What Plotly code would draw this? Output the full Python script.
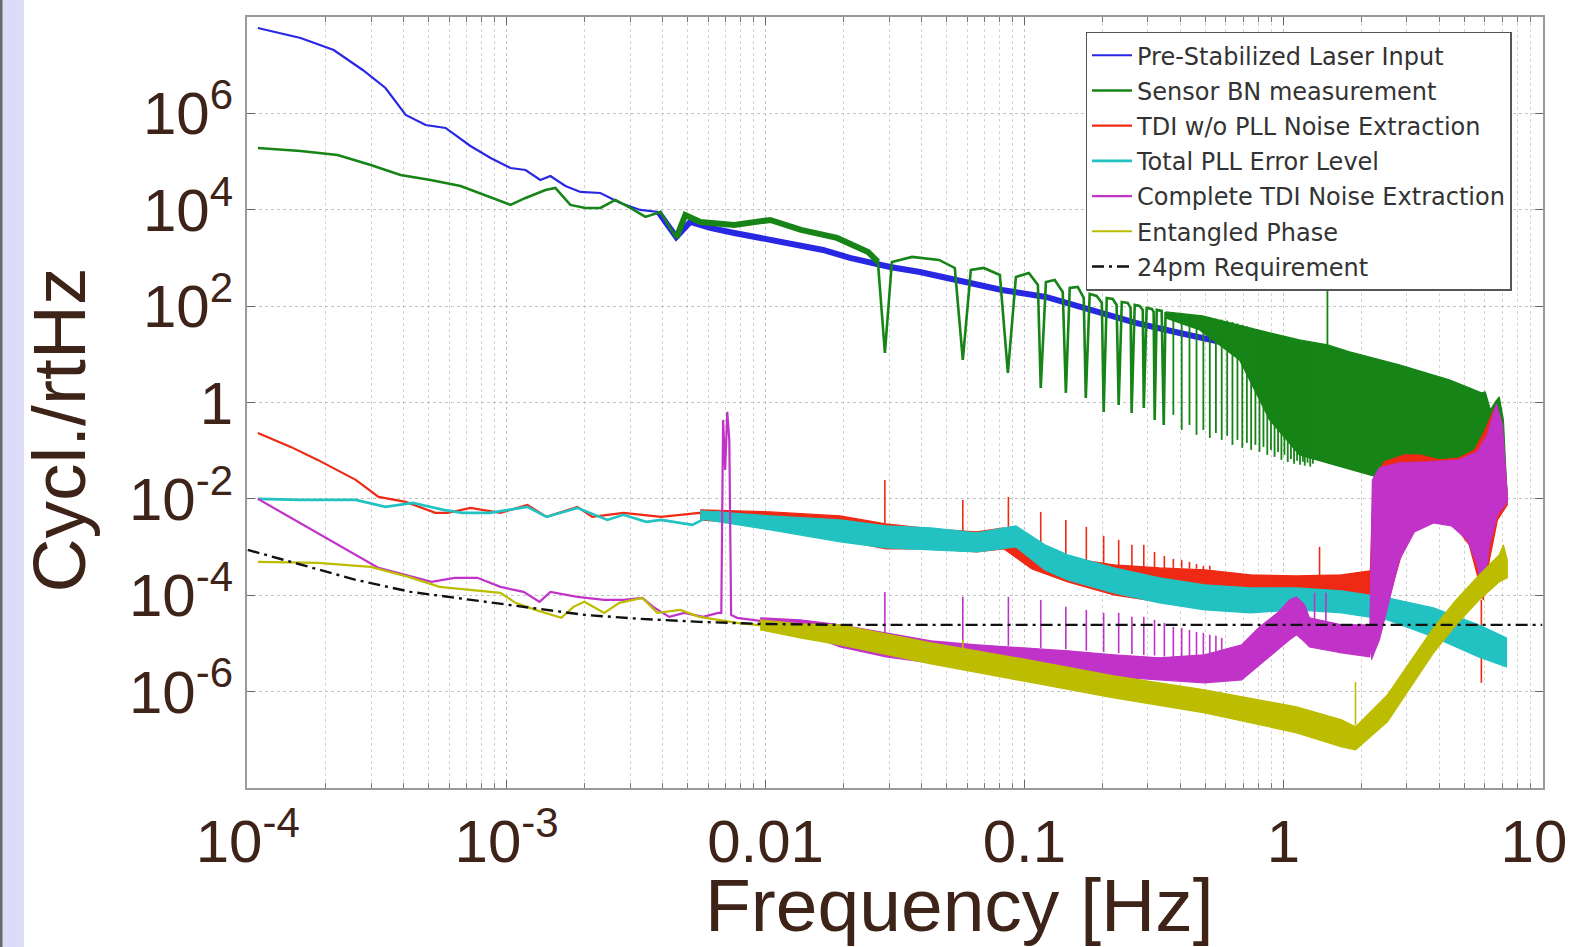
import plotly.graph_objects as go

# ---------------- data (log10 of frequency [Hz] and log10 of amplitude [cycles/rtHz]) ----------------
blue_logf = [-3.961, -3.796, -3.668, -3.556, -3.468, -3.390, -3.313, -3.236, -3.140, -3.062, -2.985, -2.927, -2.870, -2.831, -2.773, -2.715, -2.638, -2.561, -2.484, -2.414, -2.345, -2.291, -2.214, -2.121, -2.021, -1.948, -1.867, -1.778, -1.674, -1.519, -1.404, -1.261, -1.087, -0.917, -0.744, -0.570, -0.400, -0.227, -0.053, 0.062]
blue_logA = [7.772, 7.564, 7.315, 6.900, 6.527, 5.967, 5.759, 5.697, 5.323, 5.074, 4.867, 4.825, 4.618, 4.701, 4.493, 4.369, 4.348, 4.141, 3.996, 3.954, 3.435, 3.746, 3.622, 3.518, 3.414, 3.311, 3.249, 3.166, 3.000, 2.813, 2.709, 2.543, 2.336, 2.190, 1.920, 1.651, 1.443, 1.236, 0.946, 0.780]

green_logf = [-3.961, -3.796, -3.653, -3.525, -3.410, -3.294, -3.178, -3.063, -2.985, -2.927,
              -2.850, -2.812, -2.754, -2.696, -2.638, -2.580, -2.522, -2.464, -2.406, -2.345,
              -2.310, -2.252, -2.121, -1.982, -1.863, -1.724, -1.604, -1.566, -1.539, -1.512,
              -1.434, -1.330, -1.269, -1.238, -1.207, -1.157, -1.095, -1.064, -1.033, -0.983,
              -0.948, -0.937, -0.917, -0.883, -0.852, -0.840, -0.825, -0.794, -0.771, -0.763,
              -0.748, -0.721, -0.701, -0.694, -0.682, -0.659, -0.644, -0.636, -0.624, -0.601,
              -0.590, -0.586, -0.574, -0.555, -0.543, -0.539, -0.528, -0.508, -0.501, -0.497,
              -0.489, -0.470, -0.462, -0.455]
green_logA = [5.282, 5.220, 5.137, 4.929, 4.722, 4.618, 4.494, 4.265, 4.100, 4.245,
              4.411, 4.452, 4.100, 4.037, 4.037, 4.203, 4.037, 3.851, 3.954, 3.415,
              3.892, 3.747, 3.685, 3.788, 3.581, 3.415, 3.124, 2.917, 1.029, 2.917,
              3.021, 2.958, 2.792, 0.884, 2.751, 2.792, 2.647, 0.614, 2.606, 2.689,
              2.440, 0.303, 2.502, 2.544, 2.295, 0.199, 2.378, 2.398, 2.170, 0.095,
              2.253, 2.212, 2.066, -0.195, 2.170, 2.149, 2.025, -0.050, 2.087, 2.066,
              1.963, -0.216, 2.025, 2.004, 1.921, -0.112, 1.963, 1.942, 1.880, -0.361,
              1.921, 1.901, -0.465, 1.880]
gband_up_logf = [-0.455, -0.312, -0.130, 0.062, 0.171, 0.256, 0.448, 0.641, 0.718, 0.765, 0.780, 0.800, 0.819, 0.834, 0.850, 0.865]
gband_up_logA = [1.880, 1.797, 1.548, 1.299, 1.195, 1.050, 0.780, 0.469, 0.303, 0.199, 0.220, -0.154, 0.012, 0.116, -0.361, -2.021]
gband_lo_logf = [-0.455, -0.323, -0.169, -0.053, 0.062, 0.225, 0.402, 0.525, 0.649, 0.699, 0.749, 0.780, 0.816, 0.834]
gband_lo_logA = [1.755, 1.506, 0.884, -0.361, -1.087, -1.336, -1.606, -1.751, -1.813, -1.606, -0.880, -0.569, -0.776, -1.398]
gnotch_f = [0.376, 0.405, 0.434, 0.462, 0.491, 0.520, 0.549, 0.578, 0.607, 0.636, 0.665, 0.694, 0.723, 0.751, 0.780, 0.809, 0.838, 0.867, 0.896, 0.925, 0.954, 0.983, 1.01, 1.04,
            1.07, 1.10, 1.13, 1.16, 1.19, 1.21, 1.24, 1.27, 1.30, 1.48]
gnotch_top = [1.86, 1.84, 1.82, 1.80, 1.78, 1.76, 1.74, 1.72, 1.70, 1.67, 1.64, 1.61, 1.58, 1.55, 1.52, 1.49, 1.46, 1.43, 1.41, 1.39, 1.37, 1.35, 1.32, 1.30,
              1.28, 1.27, 1.26, 1.25, 1.24, 1.23, 1.22, 1.21, 1.20, 2.502]
gnotch_bot = [-0.257, -0.569, -0.465, -0.672, -0.569, -0.735, -0.631, -0.776, -0.693, -0.880, -0.776, -0.942, -0.838, -0.984, -0.880, -1.025, -0.921, -1.087, -0.984, -1.129, -1.025, -1.191, -1.087, -1.233,
              -1.17, -1.27, -1.21, -1.29, -1.23, -1.31, -1.25, -1.33, -1.27, 1.195]

red_logf = [-3.961, -3.834, -3.730, -3.583, -3.495, -3.390, -3.275, -3.228, -3.140, -3.024, -2.920, -2.846, -2.727, -2.669, -2.549, -2.461, -2.403, -2.329, -2.256, -2.183, -2.110, -2.021, -1.905, -1.813, -1.712]
red_logA = [-0.631, -0.921, -1.191, -1.606, -1.959, -2.062, -2.291, -2.291, -2.187, -2.291, -2.125, -2.374, -2.166, -2.374, -2.291, -2.332, -2.374, -2.332, -2.291, -2.374, -2.332, -2.436, -2.394, -2.498, -2.540]
rband_logf = [-2.252, -1.982, -1.712, -1.535, -1.361, -1.184, -1.080, -0.971, -0.833, -0.655, -0.478, -0.304, -0.127, 0.051, 0.225, 0.333]
rband_hi = [-2.228, -2.270, -2.353, -2.519, -2.622, -2.685, -2.602, -2.954, -3.224, -3.369, -3.432, -3.473, -3.577, -3.598, -3.577, -3.494]
rband_lo = [-2.436, -2.560, -2.850, -3.037, -3.037, -3.100, -3.037, -3.452, -3.722, -3.992, -4.137, -4.282, -4.345, -3.992, -3.992, -3.992]
rU_up_logf = [0.333, 0.348, 0.390, 0.468, 0.525, 0.603, 0.680, 0.738, 0.776, 0.816, 0.842, 0.865]
rU_up_logA = [-3.992, -1.606, -1.232, -1.087, -1.087, -1.191, -1.149, -0.984, -0.610, -0.112, -0.361, -1.917]
rU_lo_logf = [0.340, 0.379, 0.417, 0.456, 0.506, 0.583, 0.660, 0.718, 0.749, 0.772, 0.796, 0.827, 0.865]
rU_lo_logA = [-5.133, -4.718, -3.888, -3.162, -2.643, -2.477, -2.540, -2.954, -3.577, -4.096, -3.266, -2.436, -2.125]
rspike_f = [0.0289, 0.0578, 0.0867, 0.1156, 0.1445, 0.1734, 0.2023, 0.2312, 0.2601, 0.289, 0.318, 0.347, 0.376, 0.405, 0.434, 0.462, 0.491, 0.520, 1.38, 5.82]
rspike_top = [-1.606, -2.021, -1.959, -2.270, -2.436, -2.581, -2.768, -2.851, -2.954, -2.954, -3.100, -3.183, -3.245, -3.266, -3.307, -3.349, -3.390, -3.390, -2.996, -4.096]
rspike_bot = [-2.540, -2.685, -2.643, -3.017, -3.224, -3.307, -3.369, -3.390, -3.432, -3.432, -3.432, -3.432, -3.432, -3.432, -3.450, -3.450, -3.470, -3.470, -3.600, -5.818]

cyan_logf = [-3.961, -3.796, -3.583, -3.468, -3.363, -3.244, -3.171, -3.066, -2.993, -2.920, -2.846, -2.727, -2.611, -2.549, -2.461, -2.403, -2.283, -2.183, -2.110, -2.021, -1.959, -1.867, -1.813, -1.712]
cyan_logA = [-2.000, -2.021, -2.021, -2.166, -2.083, -2.228, -2.291, -2.291, -2.228, -2.166, -2.374, -2.187, -2.436, -2.332, -2.477, -2.436, -2.540, -2.270, -2.436, -2.477, -2.498, -2.581, -2.685, -2.643]
cband_logf = [-2.252, -1.982, -1.712, -1.535, -1.361, -1.184, -1.033, -0.921, -0.833, -0.655, -0.478, -0.304, -0.127, 0.051, 0.225, 0.402, 0.580, 0.754, 0.862]
cband_hi = [-2.249, -2.353, -2.436, -2.560, -2.602, -2.705, -2.560, -2.954, -3.162, -3.432, -3.639, -3.784, -3.847, -3.847, -3.909, -4.054, -4.262, -4.614, -4.884]
cband_lo = [-2.415, -2.643, -2.892, -3.017, -3.058, -3.100, -2.996, -3.473, -3.680, -3.950, -4.158, -4.303, -4.365, -4.303, -4.365, -4.510, -4.863, -5.278, -5.486]

mag_logf = [-3.961, -3.730, -3.495, -3.363, -3.290, -3.201, -3.113, -3.024, -2.935, -2.873, -2.831, -2.727, -2.623, -2.549, -2.476, -2.434, -2.372, -2.314, -2.241, -2.183, -2.171, -2.164, -2.156, -2.148, -2.140, -2.133, -2.110, -1.959, -1.813, -1.712]
mag_logA = [-2.000, -2.706, -3.432, -3.618, -3.722, -3.639, -3.639, -3.826, -3.930, -4.137, -3.930, -4.033, -4.096, -4.096, -4.054, -4.241, -4.448, -4.365, -4.448, -4.365, -4.365, -0.361, -1.398, -0.195, -0.776, -4.407, -4.469, -4.573, -4.656, -4.718]
mband_logf = [-2.021, -1.867, -1.712, -1.535, -1.361, -1.184, -1.006, -0.833, -0.655, -0.478, -0.304, -0.161, -0.092, -0.022, 0.024, 0.051, 0.082, 0.101, 0.225, 0.333]
mband_hi = [-4.469, -4.510, -4.614, -4.780, -4.946, -5.029, -5.091, -5.154, -5.237, -5.299, -5.237, -5.029, -4.656, -4.365, -4.096, -4.033, -4.199, -4.469, -4.614, -4.614]
mband_lo = [-4.635, -4.760, -5.071, -5.278, -5.403, -5.486, -5.548, -5.610, -5.693, -5.755, -5.818, -5.755, -5.444, -5.133, -4.925, -4.822, -4.967, -5.071, -5.195, -5.278]
mU_up_logf = [0.333, 0.344, 0.371, 0.448, 0.564, 0.680, 0.749, 0.788, 0.823, 0.846, 0.865]
mU_up_logA = [-5.133, -1.606, -1.357, -1.253, -1.232, -1.191, -1.025, -0.672, -0.029, -0.465, -1.917]
mU_lo_logf = [0.340, 0.371, 0.410, 0.448, 0.506, 0.580, 0.649, 0.711, 0.749, 0.772, 0.796, 0.827, 0.865]
mU_lo_logA = [-5.340, -4.925, -4.096, -3.266, -2.685, -2.498, -2.560, -2.851, -3.369, -3.992, -2.954, -2.332, -2.062]
mspike_f = [0.0289, 0.0578, 0.0867, 0.1156, 0.1445, 0.1734, 0.2023, 0.2312, 0.2601, 0.289, 0.318, 0.347, 0.376, 0.405, 0.434, 0.462, 0.491, 0.520, 0.549, 0.578, 1.32, 1.46]
mspike_top = [-3.930, -4.033, -4.033, -4.096, -4.241, -4.303, -4.365, -4.365, -4.448, -4.448, -4.510, -4.573, -4.656, -4.677, -4.718, -4.760, -4.780, -4.822, -4.843, -4.884, -3.950, -3.950]
mspike_bot = [-4.90, -5.00, -5.05, -5.10, -5.12, -5.15, -5.18, -5.20, -5.22, -5.24, -5.25, -5.27, -5.28, -5.29, -5.30, -5.30, -5.30, -5.30, -5.30, -5.30, -4.60, -4.60]

yel_logf = [-3.961, -3.730, -3.525, -3.379, -3.259, -3.140, -3.024, -2.966, -2.889, -2.789, -2.742, -2.700, -2.623, -2.565, -2.476, -2.418, -2.329, -2.256, -2.110, -1.959, -1.813, -1.712]
yel_logA = [-3.307, -3.328, -3.411, -3.618, -3.826, -3.888, -3.950, -4.158, -4.303, -4.469, -4.241, -4.137, -4.365, -4.158, -4.054, -4.365, -4.303, -4.448, -4.573, -4.656, -4.780, -4.925]
yband_logf = [-2.021, -1.867, -1.712, -1.361, -1.006, -0.655, -0.304, 0.051, 0.225, 0.279, 0.402, 0.491, 0.580, 0.664, 0.753, 0.834, 0.850, 0.865]
yband_hi = [-4.510, -4.594, -4.614, -4.988, -5.320, -5.672, -5.963, -6.315, -6.585, -6.730, -6.066, -5.361, -4.677, -4.117, -3.598, -3.162, -2.954, -3.266]
yband_lo = [-4.718, -4.884, -5.029, -5.424, -5.776, -6.129, -6.440, -6.855, -7.145, -7.208, -6.627, -5.900, -5.195, -4.635, -4.117, -3.722, -3.680, -3.639]
yspike_f = [0.0578, 1.90]
yspike_top = [-4.925, -5.800]
yspike_bot = [-5.300, -6.700]

req_logf = [-4.0, -3.796, -3.583, -3.371, -3.140, -2.908, -2.700, -2.484, -2.256, -2.021, -1.712, 1.0]
req_logA = [-3.058, -3.369, -3.680, -3.930, -4.096, -4.262, -4.407, -4.490, -4.552, -4.594, -4.614, -4.614]

series_names = ["Pre-Stabilized Laser Input", "Sensor BN measurement", "TDI w/o PLL Noise Extraction",
                "Total PLL Error Level", "Complete TDI Noise Extraction", "Entangled Phase", "24pm Requirement"]
x_tickvals = [1e-4, 1e-3, 1e-2, 1e-1, 1, 10]
x_ticktext = ["10<sup>-4</sup>", "10<sup>-3</sup>", "0.01", "0.1", "1", "10\u00a0"]
y_tickvals = [1e-6, 1e-4, 1e-2, 1, 1e2, 1e4, 1e6]
y_ticktext = ["10<sup>-6</sup>", "10<sup>-4</sup>", "10<sup>-2</sup>", "1", "10<sup>2</sup>", "10<sup>4</sup>", "10<sup>6</sup>"]

# ---------------- styling ----------------
C_BLUE, C_GREEN, C_RED, C_CYAN, C_MAG, C_YEL, C_BLK = "#2828e4", "#168416", "#ee2a14", "#22c2c2", "#c032c8", "#bcbc00", "#111111"
BROWN = "#3e2318"


def pw(a):
    return [10 ** v for v in a]


def line(lf, la, color, width, name=None, group=None, dash=None):
    return go.Scatter(x=pw(lf), y=pw(la), mode="lines", name=name or "", legendgroup=group,
                      showlegend=name is not None, hoverinfo="skip",
                      line=dict(color=color, width=width, dash=dash))


def band(up_f, up_a, lo_f, lo_a, color, group):
    xs = pw(up_f) + pw(lo_f)[::-1]
    ys = pw(up_a) + pw(lo_a)[::-1]
    return go.Scatter(x=xs, y=ys, mode="lines", fill="toself", fillcolor=color, legendgroup=group,
                      showlegend=False, hoverinfo="skip", line=dict(color=color, width=1.2))


def spikes(fs, tops, bots, color, group, width=1.6):
    xs, ys = [], []
    for f, t, b in zip(fs, tops, bots):
        xs += [f, f, None]
        ys += [10 ** b, 10 ** t, None]
    return go.Scatter(x=xs, y=ys, mode="lines", legendgroup=group, showlegend=False,
                      hoverinfo="skip", line=dict(color=color, width=width))


fig = go.Figure()
# blue
fig.add_trace(line(blue_logf, blue_logA, C_BLUE, 2.2, series_names[0], "b"))
fig.add_trace(line(blue_logf[19:], blue_logA[19:], C_BLUE, 6, None, "b"))
# green
fig.add_trace(line(green_logf, green_logA, C_GREEN, 2.6, series_names[1], "g"))
fig.add_trace(line(green_logf[19:28], green_logA[19:28], C_GREEN, 6, None, "g"))
fig.add_trace(band(gband_up_logf, gband_up_logA, gband_lo_logf, gband_lo_logA, C_GREEN, "g"))
fig.add_trace(spikes(gnotch_f, gnotch_top, gnotch_bot, C_GREEN, "g", 1.8))
# red
fig.add_trace(line(red_logf, red_logA, C_RED, 2.2, series_names[2], "r"))
fig.add_trace(band(rband_logf, rband_hi, rband_logf, rband_lo, C_RED, "r"))
fig.add_trace(band(rU_up_logf, rU_up_logA, rU_lo_logf, rU_lo_logA, C_RED, "r"))
fig.add_trace(spikes(rspike_f, rspike_top, rspike_bot, C_RED, "r"))
# cyan
fig.add_trace(line(cyan_logf, cyan_logA, C_CYAN, 2.6, series_names[3], "c"))
fig.add_trace(band(cband_logf, cband_hi, cband_logf, cband_lo, C_CYAN, "c"))
# magenta
fig.add_trace(line(mag_logf, mag_logA, C_MAG, 2.2, series_names[4], "m"))
fig.add_trace(band(mband_logf, mband_hi, mband_logf, mband_lo, C_MAG, "m"))
fig.add_trace(band(mU_up_logf, mU_up_logA, mU_lo_logf, mU_lo_logA, C_MAG, "m"))
fig.add_trace(spikes(mspike_f, mspike_top, mspike_bot, C_MAG, "m"))
# yellow
fig.add_trace(line(yel_logf, yel_logA, C_YEL, 2.2, series_names[5], "y"))
fig.add_trace(band(yband_logf, yband_hi, yband_logf, yband_lo, C_YEL, "y"))
fig.add_trace(spikes(yspike_f, yspike_top, yspike_bot, C_YEL, "y"))
# requirement
fig.add_trace(line(req_logf, req_logA, C_BLK, 2.4, series_names[6], "k", dash="12px,5px,3px,5px"))

minor_x = [m * 10 ** e for e in range(-4, 1) for m in range(2, 10)]
tick_font = dict(family="Liberation Sans, Arial, sans-serif", size=60, color=BROWN)

fig.update_xaxes(type="log", range=[-4.003, 1.003], tickmode="array", tickvals=x_tickvals, ticktext=x_ticktext,
                 tickfont=tick_font, ticks="inside", ticklen=8, tickcolor="#666", tickwidth=1.2,
                 showline=True, linecolor="#9a9a9a", linewidth=2, mirror="ticks",
                 showgrid=True, gridcolor="#c4c4c4", griddash="dot", gridwidth=1, zeroline=False,
                 ticklabelstandoff=0, ticklabeloverflow="allow", automargin=False,
                 minor=dict(tickmode="array", tickvals=minor_x, ticks="inside", ticklen=5, tickcolor="#777",
                            showgrid=True, gridcolor="#d4d4d4", griddash="dot", gridwidth=1))
fig.update_yaxes(type="log", range=[-8, 8], tickmode="array", tickvals=y_tickvals, ticktext=y_ticktext,
                 tickfont=tick_font, ticks="inside", ticklen=8, tickcolor="#666", tickwidth=1.2,
                 showline=True, linecolor="#9a9a9a", linewidth=2, mirror="ticks",
                 showgrid=True, gridcolor="#c4c4c4", griddash="dot", gridwidth=1, zeroline=False,
                 ticklabelstandoff=0, automargin=False)

fig.update_layout(
    width=1571, height=947,
    margin=dict(l=247, r=28, t=17, b=159, autoexpand=False),
    paper_bgcolor="white", plot_bgcolor="white",
    showlegend=True,
    legend=dict(x=0.647, y=0.981, xanchor="left", yanchor="top", bgcolor="white",
                bordercolor="#555", borderwidth=1.5, traceorder="grouped", tracegroupgap=1,
                itemwidth=40,
                font=dict(family="DejaVu Sans, Liberation Sans, sans-serif", size=24, color="#333")),
    annotations=[
        dict(text="Frequency [Hz]", xref="paper", yref="paper", x=0.550, y=-0.152,
             xanchor="center", yanchor="middle", showarrow=False,
             font=dict(family="Liberation Sans, Arial, sans-serif", size=75, color=BROWN)),
        dict(text="Cycl./rtHz", xref="paper", yref="paper", x=-0.1454, y=0.4643, textangle=-90,
             xanchor="center", yanchor="middle", showarrow=False,
             font=dict(family="Liberation Sans, Arial, sans-serif", size=75, color=BROWN)),
    ],
    shapes=[
        dict(type="rect", xref="paper", yref="paper", x0=-0.1906, x1=-0.1721, y0=-0.21, y1=1.03,
             fillcolor="#dcdcf8", line=dict(width=0), layer="below"),
        dict(type="line", xref="paper", yref="paper", x0=-0.1898, x1=-0.1898, y0=-0.21, y1=1.03,
             line=dict(color="#6a6a6a", width=3)),
    ],
)

fig.write_html("out.html")
